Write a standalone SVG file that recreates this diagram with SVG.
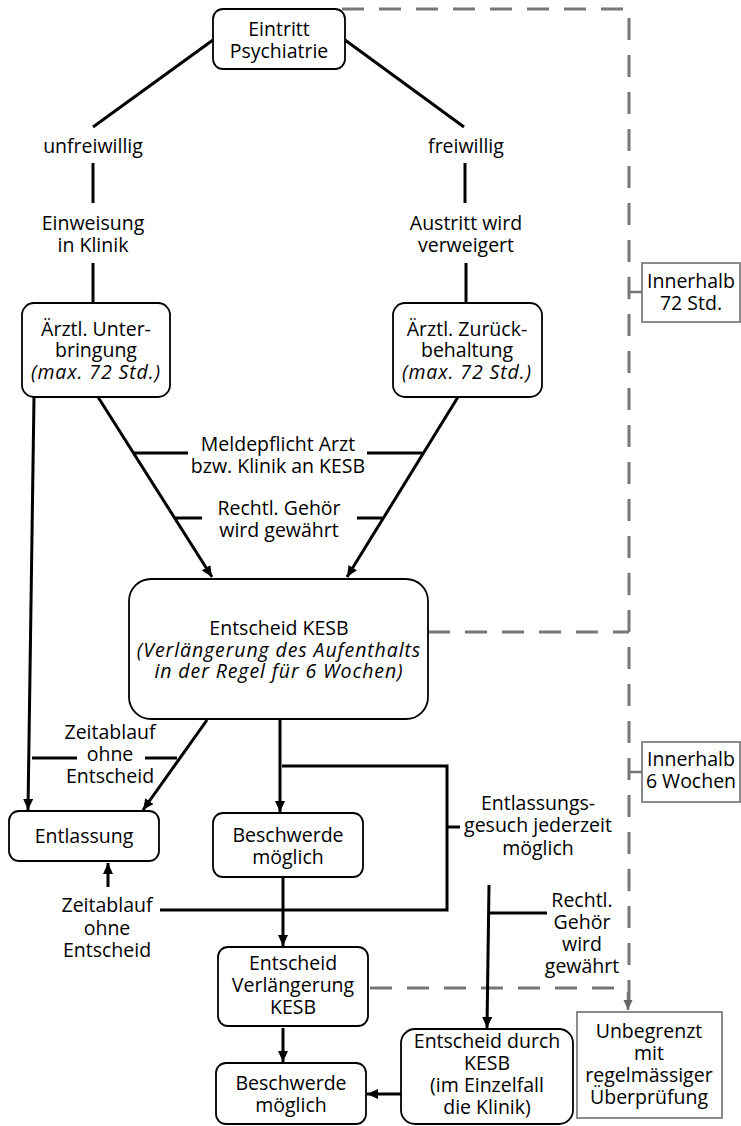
<svg xmlns="http://www.w3.org/2000/svg" width="741" height="1126" viewBox="0 0 741 1126">
<style>
text{font-family:"Open Sans","Noto Sans","Liberation Sans",sans-serif;font-size:19.5px;fill:#000;text-anchor:middle}
.it{font-style:italic;letter-spacing:0.9px}
.box{fill:#fff;stroke:#000;stroke-width:1.8}
.gbox{fill:#fff;stroke:#6f6f6f;stroke-width:1.6}
.ln{fill:none;stroke:#000;stroke-width:3}
.dash{fill:none;stroke:#777;stroke-width:3;stroke-dasharray:22 15}
.gl{fill:none;stroke:#777;stroke-width:2.5}
</style>
<defs>
<marker id="ah" markerUnits="userSpaceOnUse" markerWidth="12" markerHeight="12" refX="11" refY="5" orient="auto">
<path d="M0,0 L11,5 L0,10 z" fill="#000"/>
</marker>
<marker id="gah" markerUnits="userSpaceOnUse" markerWidth="12" markerHeight="12" refX="10" refY="4.5" orient="auto">
<path d="M0,0 L10,4.5 L0,9 z" fill="#666"/>
</marker>
</defs>

<g id="connectors">
<path class="dash" d="M342,9 H629 V1010"/>
<path class="dash" d="M428,632 H629"/>
<path class="dash" d="M370,988 H628"/>
<path class="gl" d="M628,992 V1010" marker-end="url(#gah)"/>
<path class="gl" d="M629,292 H642"/>
<path class="gl" d="M629,772 H642"/>
<path class="ln" d="M213,40 L93,127"/>
<path class="ln" d="M345,40 L464,127"/>
<path class="ln" d="M93,163 V203"/>
<path class="ln" d="M465,163 V203"/>
<path class="ln" d="M93,263 V303"/>
<path class="ln" d="M466,263 V303"/>
<path class="ln" d="M98,397 L212,577" marker-end="url(#ah)"/>
<path class="ln" d="M458,397 L347,577" marker-end="url(#ah)"/>
<path class="ln" d="M133,453 H188"/>
<path class="ln" d="M367,453 H422"/>
<path class="ln" d="M175,518 H202"/>
<path class="ln" d="M357,518 H382"/>
<path class="ln" d="M34,397 L28,810" marker-end="url(#ah)"/>
<path class="ln" d="M207,720 L143,810" marker-end="url(#ah)"/>
<path class="ln" d="M32,758 H77"/>
<path class="ln" d="M145,758 H177"/>
<path class="ln" d="M280,720 V812" marker-end="url(#ah)"/>
<path class="ln" d="M282,766 H447 V910 H160"/>
<path class="ln" d="M447,827 H460"/>
<path class="ln" d="M108,887 V863" marker-end="url(#ah)"/>
<path class="ln" d="M283,878 V946" marker-end="url(#ah)"/>
<path class="ln" d="M283,1028 V1062" marker-end="url(#ah)"/>
<path class="ln" d="M489,885 L487,1028" marker-end="url(#ah)"/>
<path class="ln" d="M489,913 H547"/>
<path class="ln" d="M401,1094 H367" marker-end="url(#ah)"/>
</g>

<g id="eintritt">
<rect class="box" x="213" y="9" width="132" height="60" rx="10"/>
<text x="279" y="36">Eintritt</text>
<text x="279" y="58">Psychiatrie</text>
</g>
<g id="unfreiwillig"><text x="93" y="153">unfreiwillig</text></g>
<g id="freiwillig"><text x="466" y="153">freiwillig</text></g>
<g id="einweisung">
<text x="93" y="230">Einweisung</text>
<text x="93" y="252">in Klinik</text>
</g>
<g id="austritt">
<text x="466" y="230">Austritt wird</text>
<text x="466" y="252">verweigert</text>
</g>
<g id="unterbringung">
<rect class="box" x="22" y="303" width="148" height="94" rx="12"/>
<text x="96" y="336">Ärztl. Unter-</text>
<text x="96" y="357">bringung</text>
<text x="96" y="379" class="it">(max. 72 Std.)</text>
</g>
<g id="zurueckbehaltung">
<rect class="box" x="393" y="303" width="149" height="94" rx="12"/>
<text x="467" y="336">Ärztl. Zurück-</text>
<text x="467" y="357">behaltung</text>
<text x="467" y="379" class="it">(max. 72 Std.)</text>
</g>
<g id="meldepflicht">
<text x="278" y="451">Meldepflicht Arzt</text>
<text x="278" y="473">bzw. Klinik an KESB</text>
</g>
<g id="gehoer1">
<text x="279" y="515">Rechtl. Gehör</text>
<text x="279" y="537">wird gewährt</text>
</g>
<g id="entscheid-kesb">
<rect class="box" x="129" y="579" width="299" height="140" rx="22"/>
<text x="279" y="635">Entscheid KESB</text>
<text x="279" y="657" class="it">(Verlängerung des Aufenthalts</text>
<text x="279" y="678" class="it">in der Regel für 6 Wochen)</text>
</g>
<g id="innerhalb72">
<rect class="gbox" x="642" y="263" width="98" height="59"/>
<text x="691" y="288">Innerhalb</text>
<text x="691" y="310">72 Std.</text>
</g>
<g id="innerhalb6">
<rect class="gbox" x="642" y="742" width="98" height="60"/>
<text x="691" y="766">Innerhalb</text>
<text x="691" y="788">6 Wochen</text>
</g>
<g id="zeitablauf1">
<text x="110" y="739">Zeitablauf</text>
<text x="110" y="761">ohne</text>
<text x="110" y="783">Entscheid</text>
</g>
<g id="entlassung">
<rect class="box" x="9" y="811" width="150" height="50" rx="10"/>
<text x="84" y="843">Entlassung</text>
</g>
<g id="beschwerde1">
<rect class="box" x="213" y="813" width="150" height="64" rx="10"/>
<text x="288" y="842">Beschwerde</text>
<text x="288" y="864">möglich</text>
</g>
<g id="entlassungsgesuch">
<text x="538" y="810">Entlassungs-</text>
<text x="538" y="832">gesuch jederzeit</text>
<text x="538" y="855">möglich</text>
</g>
<g id="zeitablauf2">
<text x="107" y="912">Zeitablauf</text>
<text x="107" y="935">ohne</text>
<text x="107" y="957">Entscheid</text>
</g>
<g id="gehoer2">
<text x="582" y="907">Rechtl.</text>
<text x="582" y="929">Gehör</text>
<text x="582" y="951">wird</text>
<text x="582" y="973">gewährt</text>
</g>
<g id="entscheid-verlaengerung">
<rect class="box" x="218" y="947" width="150" height="79" rx="10"/>
<text x="293" y="970">Entscheid</text>
<text x="293" y="992">Verlängerung</text>
<text x="293" y="1014">KESB</text>
</g>
<g id="beschwerde2">
<rect class="box" x="216" y="1063" width="150" height="61" rx="10"/>
<text x="291" y="1090">Beschwerde</text>
<text x="291" y="1112">möglich</text>
</g>
<g id="entscheid-durch">
<rect class="box" x="401" y="1029" width="172" height="95" rx="14"/>
<text x="487" y="1048">Entscheid durch</text>
<text x="487" y="1070">KESB</text>
<text x="487" y="1092">(im Einzelfall</text>
<text x="487" y="1114">die Klinik)</text>
</g>
<g id="unbegrenzt">
<rect class="gbox" x="577" y="1012" width="145" height="106"/>
<text x="649" y="1038">Unbegrenzt</text>
<text x="649" y="1060">mit</text>
<text x="649" y="1082">regelmässiger</text>
<text x="649" y="1104">Überprüfung</text>
</g>
</svg>
